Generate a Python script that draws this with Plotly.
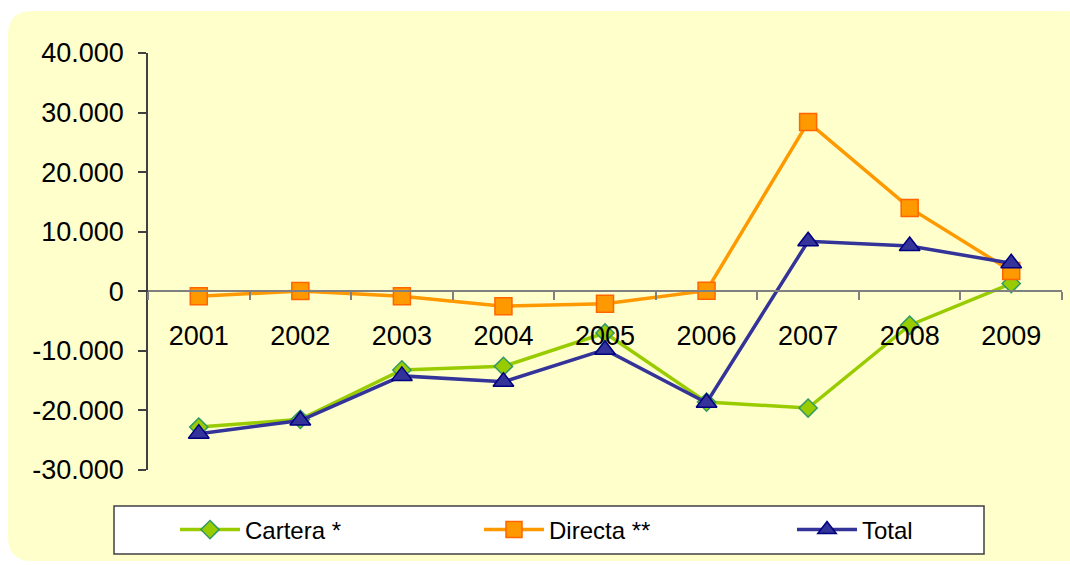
import plotly.graph_objects as go

years = ["2001", "2002", "2003", "2004", "2005", "2006", "2007", "2008", "2009"]
cartera = [-22800, -21500, -13200, -12600, -7000, -18600, -19600, -5700, 1300]
directa = [-850, 50, -850, -2500, -2100, 100, 28400, 14000, 3400]
total = [-23900, -21700, -14200, -15200, -9800, -18700, 8400, 7600, 4700]
y_ticks = [-30000, -20000, -10000, 0, 10000, 20000, 30000, 40000]
y_tick_labels = ["-30.000", "-20.000", "-10.000", "0", "10.000", "20.000", "30.000", "40.000"]

W, H = 1070, 565
L, R, T, B = 148, 8, 53, 95
PW, PH = W - L - R, H - T - B


def px(x):
    return (x - L) / PW


def py(y):
    return (H - B - y) / PH


def rounded_path(x0, y0, x1, y1, r):
    pts = [
        ("M", [(x0 + r, y0)]),
        ("L", [(x1 - r, y0)]),
        ("Q", [(x1, y0), (x1, y0 + r)]),
        ("L", [(x1, y1 - r)]),
        ("Q", [(x1, y1), (x1 - r, y1)]),
        ("L", [(x0 + r, y1)]),
        ("Q", [(x0, y1), (x0, y1 - r)]),
        ("L", [(x0, y0 + r)]),
        ("Q", [(x0, y0), (x0 + r, y0)]),
    ]
    s = ""
    for cmd, ps in pts:
        s += cmd + " ".join(f"{px(a):.5f},{py(b):.5f}" for a, b in ps)
    return s + "Z"


fig = go.Figure()
fig.add_trace(go.Scatter(
    x=years, y=cartera, name="Cartera *", mode="lines+markers", legend="legend",
    line=dict(color="#99CC00", width=3.5),
    marker=dict(symbol="diamond", size=14, color="#99CC00",
                line=dict(color="#339966", width=1.5)),
))
fig.add_trace(go.Scatter(
    x=years, y=directa, name="Directa **", mode="lines+markers", legend="legend2",
    line=dict(color="#FF9900", width=3.5),
    marker=dict(symbol="square", size=17, color="#FF9900",
                line=dict(color="#FF6600", width=1.5)),
))
fig.add_trace(go.Scatter(
    x=years, y=total, name="Total", mode="lines+markers", legend="legend3",
    line=dict(color="#333399", width=3.5),
    marker=dict(symbol="triangle-up", size=18, color="#333399",
                line=dict(color="#000080", width=1.5)),
))

font = "Liberation Sans, Arial, sans-serif"


def leg(xpix):
    return dict(
        orientation="h", x=px(xpix), xanchor="left", y=py(530), yanchor="middle",
        bgcolor="rgba(0,0,0,0)", borderwidth=0,
        font=dict(family=font, size=24, color="black"),
        itemwidth=60,
    )


fig.update_layout(
    width=W, height=H,
    margin=dict(l=L, r=R, t=T, b=B, pad=0),
    paper_bgcolor="white",
    plot_bgcolor="rgba(0,0,0,0)",
    font=dict(family=font, size=27, color="black"),
    showlegend=True,
    legend=leg(175),
    legend2=leg(479),
    legend3=leg(792),
    xaxis=dict(
        type="category", range=[-0.5, 8.5],
        anchor="free", position=30000 / 70000,
        showline=True, linecolor="#808080", linewidth=1.5,
        ticks="outside", tickson="boundaries", ticklen=8, tickcolor="#808080",
        tickwidth=1.5,
        showgrid=False, zeroline=False,
        ticklabelstandoff=21,
        tickfont=dict(family=font, size=27, color="black"),
    ),
    yaxis=dict(
        range=[-30000, 40000], tickvals=y_ticks, ticktext=y_tick_labels,
        showline=True, linecolor="#404040", linewidth=1.5,
        ticks="outside", ticklen=8, tickcolor="#404040", tickwidth=1.5,
        showgrid=False, zeroline=False,
        ticklabelstandoff=9,
        tickfont=dict(family=font, size=27, color="black"),
    ),
    shapes=[
        dict(type="path", xref="paper", yref="paper", layer="below",
             path=rounded_path(8, 11, 1090, 561, 24),
             fillcolor="#FFFFCC", line=dict(width=0)),
        dict(type="rect", xref="paper", yref="paper", layer="below",
             x0=px(114), x1=px(984), y0=py(554), y1=py(506),
             fillcolor="white", line=dict(color="#404040", width=1.5)),
    ],
)

fig.write_html("out.html", config={"displayModeBar": False},
               post_script="document.body.style.margin='0px';")
